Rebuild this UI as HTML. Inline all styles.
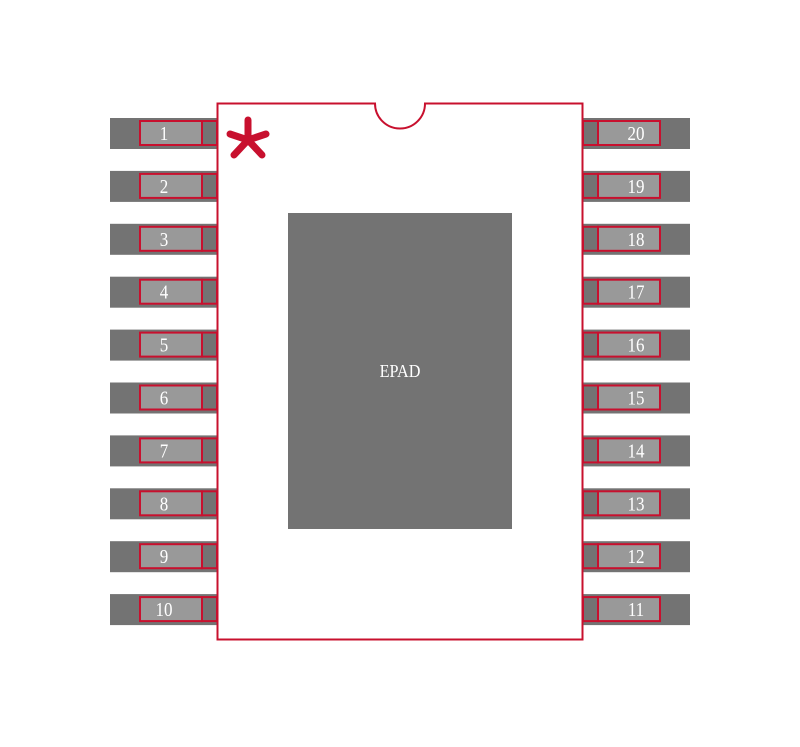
<!DOCTYPE html>
<html><head><style>body{margin:0;background:#fff}</style></head><body>
<svg width="800" height="742" viewBox="0 0 800 742" xmlns="http://www.w3.org/2000/svg" font-family="Liberation Serif, serif">
<rect x="288" y="213" width="224" height="316" fill="#737373"/>
<text x="400" y="377" fill="#fff" font-size="18" text-anchor="middle" transform="translate(400 0) scale(0.9 1) translate(-400 0)">EPAD</text>
<path d="M217.5 103.5 H375 A25 25 0 0 0 425 103.5 H582.5 V639.5 H217.5 Z" fill="none" stroke="#c8102e" stroke-width="2"/>
<g stroke="#c8102e" stroke-linecap="round">
<line x1="248" y1="120" x2="248" y2="140" stroke-width="7"/>
<line x1="230" y1="134" x2="248" y2="140" stroke-width="7"/>
<line x1="266" y1="134" x2="248" y2="140" stroke-width="7"/>
<line x1="234" y1="155" x2="248" y2="140" stroke-width="7"/>
<line x1="262" y1="155" x2="248" y2="140" stroke-width="7"/>
</g>
</svg>
<script>
var s=document.querySelector('svg'),h='';
for(var i=0;i<10;i++){var y=118+i*52.9;
h+='<rect x="110" y="'+y+'" width="107" height="31" fill="#737373"/>';
h+='<rect x="140" y="'+(y+3)+'" width="62" height="24" fill="#999" stroke="#c8102e" stroke-width="2"/>';
h+='<rect x="202" y="'+(y+3)+'" width="15" height="24" fill="none" stroke="#c8102e" stroke-width="2"/>';
h+='<text x="164" y="'+(y+22)+'" fill="#fff" font-size="20" text-anchor="middle" transform="translate(164 0) scale(0.85 1) translate(-164 0)">'+(i+1)+'</text>';
h+='<rect x="583" y="'+y+'" width="107" height="31" fill="#737373"/>';
h+='<rect x="598" y="'+(y+3)+'" width="62" height="24" fill="#999" stroke="#c8102e" stroke-width="2"/>';
h+='<rect x="583" y="'+(y+3)+'" width="15" height="24" fill="none" stroke="#c8102e" stroke-width="2"/>';
h+='<text x="636" y="'+(y+22)+'" fill="#fff" font-size="20" text-anchor="middle" transform="translate(636 0) scale(0.85 1) translate(-636 0)">'+(20-i)+'</text>';}
s.insertAdjacentHTML('afterbegin',h);
</script>
</body></html>
